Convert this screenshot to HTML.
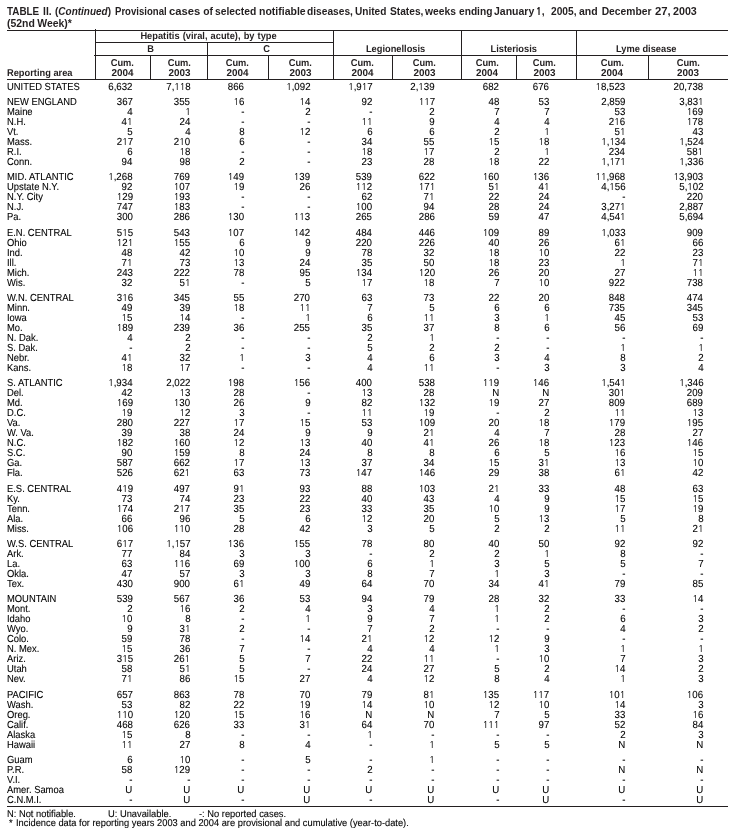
<!DOCTYPE html><html><head><meta charset='utf-8'><title>Table II</title><style>
*{margin:0;padding:0;box-sizing:border-box}
html,body{width:736px;height:835px;overflow:hidden;background:#fff}
body{position:relative;font-family:"Liberation Sans",Arial,Helvetica,sans-serif;color:#231f20}
.w{position:absolute;left:0;top:0;width:736px;height:835px;will-change:transform}
.w div,.w span{position:absolute;white-space:nowrap}
.l{transform-origin:0 50%}
.r{transform-origin:100% 50%}
.c{transform-origin:50% 50%}
.t div{font-weight:bold;font-size:10.3px;line-height:12px;transform:scaleX(0.97);transform-origin:0 50%;word-spacing:-0.55px}
.h{position:absolute;height:1px;background:#231f20}
.v{position:absolute;width:1px;background:#231f20}
.hd div{font-weight:bold;font-size:9.9px;line-height:10px;text-align:center;text-rendering:geometricPrecision;height:10px}
.hd span{position:static;display:inline-block;transform:scaleX(0.9394)}
.hd span.y{transform:scaleX(1.0)}
.d div{left:0;width:736px;height:10px;font-size:10.2px;line-height:10px;text-rendering:geometricPrecision;color:#000;-webkit-text-stroke:0.1px #000}
.d span{top:0}
.d span.o{position:static;font-family:"NanumGothic","Liberation Sans",sans-serif;font-weight:400;font-size:9.41px;letter-spacing:0px;line-height:0}
.d .n{left:7.3px;transform:scaleX(0.9216);transform-origin:0 50%}
.d .x{transform:scaleX(0.951);transform-origin:100% 50%}
.f div{font-size:9.9px;line-height:10px;text-rendering:geometricPrecision;color:#000;-webkit-text-stroke:0.1px #000;transform:scaleX(0.9444);transform-origin:0 50%}
.d .c0{right:603.40px}
.d .c1{right:545.60px}
.d .c2{right:491.80px}
.d .c3{right:425.60px}
.d .c4{right:363.80px}
.d .c5{right:301.40px}
.d .c6{right:236.60px}
.d .c7{right:186.60px}
.d .c8{right:110.80px}
.d .c9{right:32.80px}
</style></head><body>
<div class='w t'><div style='left:7.30px;top:6.00px;transform:scaleX(0.96)'>TABLE</div> <div style='left:43.10px;top:6.00px;transform:scaleX(1.0)'>II.</div> <div style='left:54.70px;top:6.00px;transform:scaleX(0.969)'>(<i>Continued</i>)</div> <div style='left:115.20px;top:6.00px;transform:scaleX(0.93)'>Provisional</div> <div style='left:169.00px;top:6.00px;transform:scaleX(1.095)'>cases</div> <div style='left:203.30px;top:6.00px;transform:scaleX(1.0)'>of</div> <div style='left:215.00px;top:6.00px;transform:scaleX(1.0)'>selected</div> <div style='left:259.20px;top:6.00px;transform:scaleX(1.02)'>notifiable</div> <div style='left:307.20px;top:6.00px;transform:scaleX(0.99)'>diseases,</div> <div style='left:355.30px;top:6.00px;transform:scaleX(0.98)'>United</div> <div style='left:389.60px;top:6.00px;transform:scaleX(0.99)'>States,</div> <div style='left:425.00px;top:6.00px;transform:scaleX(1.0)'>weeks</div> <div style='left:459.00px;top:6.00px;transform:scaleX(0.99)'>ending</div> <div style='left:494.40px;top:6.00px;transform:scaleX(1.02)'>January</div> <div style='left:536.00px;top:6.00px;transform:scaleX(1.0)'><span style='position:static;font-family:NanumGothic,sans-serif;font-weight:800;font-size:9.36px'>1</span>,</div> <div style='left:550.60px;top:6.00px;transform:scaleX(0.99)'>2005,</div> <div style='left:578.70px;top:6.00px;transform:scaleX(1.02)'>and</div> <div style='left:601.70px;top:6.00px;transform:scaleX(1.0)'>December</div> <div style='left:654.70px;top:6.00px;transform:scaleX(1.1)'>27,</div> <div style='left:673.00px;top:6.00px;transform:scaleX(1.04)'>2003</div><div style='left:7.3px;top:18.20px;transform:scaleX(1.015)'>(52nd Week)*</div></div>
<div class='h' style='left:7px;width:721px;top:30px'></div>
<div class='h' style='left:95px;width:238px;top:42px'></div>
<div class='h' style='left:94px;width:634px;top:55px'></div>
<div class='h' style='left:7px;width:721px;top:79px'></div>
<div class='h' style='left:7px;width:721px;top:806px'></div>
<div class='v' style='left:95px;top:29px;height:50px'></div>
<div class='v' style='left:150px;top:55px;height:24px'></div>
<div class='v' style='left:207px;top:42px;height:37px'></div>
<div class='v' style='left:268px;top:55px;height:24px'></div>
<div class='v' style='left:333px;top:30px;height:49px'></div>
<div class='v' style='left:392px;top:55px;height:24px'></div>
<div class='v' style='left:461px;top:30px;height:49px'></div>
<div class='v' style='left:516px;top:55px;height:24px'></div>
<div class='v' style='left:576px;top:30px;height:49px'></div>
<div class='v' style='left:648px;top:55px;height:24px'></div>
<div class='w hd'><div style='left:89.80px;width:238px;top:31.60px'><span><span style='word-spacing:0.6px;transform:none'>Hepatitis (viral, acute), by type</span></span></div><div style='left:95.00px;width:112px;top:44.50px'><span>B</span></div><div style='left:203.50px;width:126px;top:44.50px'><span>C</span></div><div style='left:332.00px;width:128px;top:44.50px'><span>Legionellosis</span></div><div style='left:456.00px;width:115px;top:44.50px'><span>Listeriosis</span></div><div style='left:570.40px;width:152px;top:44.50px'><span>Lyme disease</span></div><div style='left:95.00px;width:55px;top:58.80px'><span>Cum.</span></div><div style='left:95.00px;width:55px;top:68.50px'><span class='y'>2004</span></div><div style='left:151.00px;width:57px;top:58.80px'><span>Cum.</span></div><div style='left:151.00px;width:57px;top:68.50px'><span class='y'>2003</span></div><div style='left:207.00px;width:61px;top:58.80px'><span>Cum.</span></div><div style='left:207.00px;width:61px;top:68.50px'><span class='y'>2004</span></div><div style='left:268.00px;width:65px;top:58.80px'><span>Cum.</span></div><div style='left:268.00px;width:65px;top:68.50px'><span class='y'>2003</span></div><div style='left:333.00px;width:59px;top:58.80px'><span>Cum.</span></div><div style='left:333.00px;width:59px;top:68.50px'><span class='y'>2004</span></div><div style='left:390.00px;width:69px;top:58.80px'><span>Cum.</span></div><div style='left:390.00px;width:69px;top:68.50px'><span class='y'>2003</span></div><div style='left:459.50px;width:55px;top:58.80px'><span>Cum.</span></div><div style='left:459.50px;width:55px;top:68.50px'><span class='y'>2004</span></div><div style='left:514.50px;width:60px;top:58.80px'><span>Cum.</span></div><div style='left:514.50px;width:60px;top:68.50px'><span class='y'>2003</span></div><div style='left:576.00px;width:72px;top:58.80px'><span>Cum.</span></div><div style='left:576.00px;width:72px;top:68.50px'><span class='y'>2004</span></div><div style='left:648.00px;width:80px;top:58.80px'><span>Cum.</span></div><div style='left:648.00px;width:80px;top:68.50px'><span class='y'>2003</span></div><div style='left:7.3px;text-align:left;top:68.50px'><span style='transform-origin:0 50%'>Reporting area</span></div></div>
<div class='w d'><div style='top:83.00px'><span class='n'>UNITED STATES</span> <span class='x c0'>6,632</span> <span class='x c1'>7,<span class='o'>1</span><span class='o'>1</span>8</span> <span class='x c2'>866</span> <span class='x c3'><span class='o'>1</span>,092</span> <span class='x c4'><span class='o'>1</span>,9<span class='o'>1</span>7</span> <span class='x c5'>2,<span class='o'>1</span>39</span> <span class='x c6'>682</span> <span class='x c7'>676</span> <span class='x c8'><span class='o'>1</span>8,523</span> <span class='x c9'>20,738</span></div><div style='top:98.00px'><span class='n'>NEW ENGLAND</span> <span class='x c0'>367</span> <span class='x c1'>355</span> <span class='x c2'><span class='o'>1</span>6</span> <span class='x c3'><span class='o'>1</span>4</span> <span class='x c4'>92</span> <span class='x c5'><span class='o'>1</span><span class='o'>1</span>7</span> <span class='x c6'>48</span> <span class='x c7'>53</span> <span class='x c8'>2,859</span> <span class='x c9'>3,83<span class='o'>1</span></span></div><div style='top:108.00px'><span class='n'>Maine</span> <span class='x c0'>4</span> <span class='x c1'><span class='o'>1</span></span> <span class='x c2'>-</span> <span class='x c3'>2</span> <span class='x c4'>-</span> <span class='x c5'>2</span> <span class='x c6'>7</span> <span class='x c7'>7</span> <span class='x c8'>53</span> <span class='x c9'><span class='o'>1</span>69</span></div><div style='top:118.00px'><span class='n'>N.H.</span> <span class='x c0'>4<span class='o'>1</span></span> <span class='x c1'>24</span> <span class='x c2'>-</span> <span class='x c3'>-</span> <span class='x c4'><span class='o'>1</span><span class='o'>1</span></span> <span class='x c5'>9</span> <span class='x c6'>4</span> <span class='x c7'>4</span> <span class='x c8'>2<span class='o'>1</span>6</span> <span class='x c9'><span class='o'>1</span>78</span></div><div style='top:128.00px'><span class='n'>Vt.</span> <span class='x c0'>5</span> <span class='x c1'>4</span> <span class='x c2'>8</span> <span class='x c3'><span class='o'>1</span>2</span> <span class='x c4'>6</span> <span class='x c5'>6</span> <span class='x c6'>2</span> <span class='x c7'><span class='o'>1</span></span> <span class='x c8'>5<span class='o'>1</span></span> <span class='x c9'>43</span></div><div style='top:138.00px'><span class='n'>Mass.</span> <span class='x c0'>2<span class='o'>1</span>7</span> <span class='x c1'>2<span class='o'>1</span>0</span> <span class='x c2'>6</span> <span class='x c3'>-</span> <span class='x c4'>34</span> <span class='x c5'>55</span> <span class='x c6'><span class='o'>1</span>5</span> <span class='x c7'><span class='o'>1</span>8</span> <span class='x c8'><span class='o'>1</span>,<span class='o'>1</span>34</span> <span class='x c9'><span class='o'>1</span>,524</span></div><div style='top:148.00px'><span class='n'>R.I.</span> <span class='x c0'>6</span> <span class='x c1'><span class='o'>1</span>8</span> <span class='x c2'>-</span> <span class='x c3'>-</span> <span class='x c4'><span class='o'>1</span>8</span> <span class='x c5'><span class='o'>1</span>7</span> <span class='x c6'>2</span> <span class='x c7'><span class='o'>1</span></span> <span class='x c8'>234</span> <span class='x c9'>58<span class='o'>1</span></span></div><div style='top:158.00px'><span class='n'>Conn.</span> <span class='x c0'>94</span> <span class='x c1'>98</span> <span class='x c2'>2</span> <span class='x c3'>-</span> <span class='x c4'>23</span> <span class='x c5'>28</span> <span class='x c6'><span class='o'>1</span>8</span> <span class='x c7'>22</span> <span class='x c8'><span class='o'>1</span>,<span class='o'>1</span>7<span class='o'>1</span></span> <span class='x c9'><span class='o'>1</span>,336</span></div><div style='top:173.00px'><span class='n'>MID. ATLANTIC</span> <span class='x c0'><span class='o'>1</span>,268</span> <span class='x c1'>769</span> <span class='x c2'><span class='o'>1</span>49</span> <span class='x c3'><span class='o'>1</span>39</span> <span class='x c4'>539</span> <span class='x c5'>622</span> <span class='x c6'><span class='o'>1</span>60</span> <span class='x c7'><span class='o'>1</span>36</span> <span class='x c8'><span class='o'>1</span><span class='o'>1</span>,968</span> <span class='x c9'><span class='o'>1</span>3,903</span></div><div style='top:183.00px'><span class='n'>Upstate N.Y.</span> <span class='x c0'>92</span> <span class='x c1'><span class='o'>1</span>07</span> <span class='x c2'><span class='o'>1</span>9</span> <span class='x c3'>26</span> <span class='x c4'><span class='o'>1</span><span class='o'>1</span>2</span> <span class='x c5'><span class='o'>1</span>7<span class='o'>1</span></span> <span class='x c6'>5<span class='o'>1</span></span> <span class='x c7'>4<span class='o'>1</span></span> <span class='x c8'>4,<span class='o'>1</span>56</span> <span class='x c9'>5,<span class='o'>1</span>02</span></div><div style='top:193.00px'><span class='n'>N.Y. City</span> <span class='x c0'><span class='o'>1</span>29</span> <span class='x c1'><span class='o'>1</span>93</span> <span class='x c2'>-</span> <span class='x c3'>-</span> <span class='x c4'>62</span> <span class='x c5'>7<span class='o'>1</span></span> <span class='x c6'>22</span> <span class='x c7'>24</span> <span class='x c8'>-</span> <span class='x c9'>220</span></div><div style='top:203.00px'><span class='n'>N.J.</span> <span class='x c0'>747</span> <span class='x c1'><span class='o'>1</span>83</span> <span class='x c2'>-</span> <span class='x c3'>-</span> <span class='x c4'><span class='o'>1</span>00</span> <span class='x c5'>94</span> <span class='x c6'>28</span> <span class='x c7'>24</span> <span class='x c8'>3,27<span class='o'>1</span></span> <span class='x c9'>2,887</span></div><div style='top:213.00px'><span class='n'>Pa.</span> <span class='x c0'>300</span> <span class='x c1'>286</span> <span class='x c2'><span class='o'>1</span>30</span> <span class='x c3'><span class='o'>1</span><span class='o'>1</span>3</span> <span class='x c4'>265</span> <span class='x c5'>286</span> <span class='x c6'>59</span> <span class='x c7'>47</span> <span class='x c8'>4,54<span class='o'>1</span></span> <span class='x c9'>5,694</span></div><div style='top:229.00px'><span class='n'>E.N. CENTRAL</span> <span class='x c0'>5<span class='o'>1</span>5</span> <span class='x c1'>543</span> <span class='x c2'><span class='o'>1</span>07</span> <span class='x c3'><span class='o'>1</span>42</span> <span class='x c4'>484</span> <span class='x c5'>446</span> <span class='x c6'><span class='o'>1</span>09</span> <span class='x c7'>89</span> <span class='x c8'><span class='o'>1</span>,033</span> <span class='x c9'>909</span></div><div style='top:239.00px'><span class='n'>Ohio</span> <span class='x c0'><span class='o'>1</span>2<span class='o'>1</span></span> <span class='x c1'><span class='o'>1</span>55</span> <span class='x c2'>6</span> <span class='x c3'>9</span> <span class='x c4'>220</span> <span class='x c5'>226</span> <span class='x c6'>40</span> <span class='x c7'>26</span> <span class='x c8'>6<span class='o'>1</span></span> <span class='x c9'>66</span></div><div style='top:249.00px'><span class='n'>Ind.</span> <span class='x c0'>48</span> <span class='x c1'>42</span> <span class='x c2'><span class='o'>1</span>0</span> <span class='x c3'>9</span> <span class='x c4'>78</span> <span class='x c5'>32</span> <span class='x c6'><span class='o'>1</span>8</span> <span class='x c7'><span class='o'>1</span>0</span> <span class='x c8'>22</span> <span class='x c9'>23</span></div><div style='top:259.00px'><span class='n'>Ill.</span> <span class='x c0'>7<span class='o'>1</span></span> <span class='x c1'>73</span> <span class='x c2'><span class='o'>1</span>3</span> <span class='x c3'>24</span> <span class='x c4'>35</span> <span class='x c5'>50</span> <span class='x c6'><span class='o'>1</span>8</span> <span class='x c7'>23</span> <span class='x c8'><span class='o'>1</span></span> <span class='x c9'>7<span class='o'>1</span></span></div><div style='top:269.00px'><span class='n'>Mich.</span> <span class='x c0'>243</span> <span class='x c1'>222</span> <span class='x c2'>78</span> <span class='x c3'>95</span> <span class='x c4'><span class='o'>1</span>34</span> <span class='x c5'><span class='o'>1</span>20</span> <span class='x c6'>26</span> <span class='x c7'>20</span> <span class='x c8'>27</span> <span class='x c9'><span class='o'>1</span><span class='o'>1</span></span></div><div style='top:279.00px'><span class='n'>Wis.</span> <span class='x c0'>32</span> <span class='x c1'>5<span class='o'>1</span></span> <span class='x c2'>-</span> <span class='x c3'>5</span> <span class='x c4'><span class='o'>1</span>7</span> <span class='x c5'><span class='o'>1</span>8</span> <span class='x c6'>7</span> <span class='x c7'><span class='o'>1</span>0</span> <span class='x c8'>922</span> <span class='x c9'>738</span></div><div style='top:294.00px'><span class='n'>W.N. CENTRAL</span> <span class='x c0'>3<span class='o'>1</span>6</span> <span class='x c1'>345</span> <span class='x c2'>55</span> <span class='x c3'>270</span> <span class='x c4'>63</span> <span class='x c5'>73</span> <span class='x c6'>22</span> <span class='x c7'>20</span> <span class='x c8'>848</span> <span class='x c9'>474</span></div><div style='top:304.00px'><span class='n'>Minn.</span> <span class='x c0'>49</span> <span class='x c1'>39</span> <span class='x c2'><span class='o'>1</span>8</span> <span class='x c3'><span class='o'>1</span><span class='o'>1</span></span> <span class='x c4'>7</span> <span class='x c5'>5</span> <span class='x c6'>6</span> <span class='x c7'>6</span> <span class='x c8'>735</span> <span class='x c9'>345</span></div><div style='top:314.00px'><span class='n'>Iowa</span> <span class='x c0'><span class='o'>1</span>5</span> <span class='x c1'><span class='o'>1</span>4</span> <span class='x c2'>-</span> <span class='x c3'><span class='o'>1</span></span> <span class='x c4'>6</span> <span class='x c5'><span class='o'>1</span><span class='o'>1</span></span> <span class='x c6'>3</span> <span class='x c7'><span class='o'>1</span></span> <span class='x c8'>45</span> <span class='x c9'>53</span></div><div style='top:324.00px'><span class='n'>Mo.</span> <span class='x c0'><span class='o'>1</span>89</span> <span class='x c1'>239</span> <span class='x c2'>36</span> <span class='x c3'>255</span> <span class='x c4'>35</span> <span class='x c5'>37</span> <span class='x c6'>8</span> <span class='x c7'>6</span> <span class='x c8'>56</span> <span class='x c9'>69</span></div><div style='top:334.00px'><span class='n'>N. Dak.</span> <span class='x c0'>4</span> <span class='x c1'>2</span> <span class='x c2'>-</span> <span class='x c3'>-</span> <span class='x c4'>2</span> <span class='x c5'><span class='o'>1</span></span> <span class='x c6'>-</span> <span class='x c7'>-</span> <span class='x c8'>-</span> <span class='x c9'>-</span></div><div style='top:344.00px'><span class='n'>S. Dak.</span> <span class='x c0'>-</span> <span class='x c1'>2</span> <span class='x c2'>-</span> <span class='x c3'>-</span> <span class='x c4'>5</span> <span class='x c5'>2</span> <span class='x c6'>2</span> <span class='x c7'>-</span> <span class='x c8'><span class='o'>1</span></span> <span class='x c9'><span class='o'>1</span></span></div><div style='top:354.00px'><span class='n'>Nebr.</span> <span class='x c0'>4<span class='o'>1</span></span> <span class='x c1'>32</span> <span class='x c2'><span class='o'>1</span></span> <span class='x c3'>3</span> <span class='x c4'>4</span> <span class='x c5'>6</span> <span class='x c6'>3</span> <span class='x c7'>4</span> <span class='x c8'>8</span> <span class='x c9'>2</span></div><div style='top:364.00px'><span class='n'>Kans.</span> <span class='x c0'><span class='o'>1</span>8</span> <span class='x c1'><span class='o'>1</span>7</span> <span class='x c2'>-</span> <span class='x c3'>-</span> <span class='x c4'>4</span> <span class='x c5'><span class='o'>1</span><span class='o'>1</span></span> <span class='x c6'>-</span> <span class='x c7'>3</span> <span class='x c8'>3</span> <span class='x c9'>4</span></div><div style='top:379.00px'><span class='n'>S. ATLANTIC</span> <span class='x c0'><span class='o'>1</span>,934</span> <span class='x c1'>2,022</span> <span class='x c2'><span class='o'>1</span>98</span> <span class='x c3'><span class='o'>1</span>56</span> <span class='x c4'>400</span> <span class='x c5'>538</span> <span class='x c6'><span class='o'>1</span><span class='o'>1</span>9</span> <span class='x c7'><span class='o'>1</span>46</span> <span class='x c8'><span class='o'>1</span>,54<span class='o'>1</span></span> <span class='x c9'><span class='o'>1</span>,346</span></div><div style='top:389.00px'><span class='n'>Del.</span> <span class='x c0'>42</span> <span class='x c1'><span class='o'>1</span>3</span> <span class='x c2'>28</span> <span class='x c3'>-</span> <span class='x c4'><span class='o'>1</span>3</span> <span class='x c5'>28</span> <span class='x c6'>N</span> <span class='x c7'>N</span> <span class='x c8'>30<span class='o'>1</span></span> <span class='x c9'>209</span></div><div style='top:399.00px'><span class='n'>Md.</span> <span class='x c0'><span class='o'>1</span>69</span> <span class='x c1'><span class='o'>1</span>30</span> <span class='x c2'>26</span> <span class='x c3'>9</span> <span class='x c4'>82</span> <span class='x c5'><span class='o'>1</span>32</span> <span class='x c6'><span class='o'>1</span>9</span> <span class='x c7'>27</span> <span class='x c8'>809</span> <span class='x c9'>689</span></div><div style='top:409.00px'><span class='n'>D.C.</span> <span class='x c0'><span class='o'>1</span>9</span> <span class='x c1'><span class='o'>1</span>2</span> <span class='x c2'>3</span> <span class='x c3'>-</span> <span class='x c4'><span class='o'>1</span><span class='o'>1</span></span> <span class='x c5'><span class='o'>1</span>9</span> <span class='x c6'>-</span> <span class='x c7'>2</span> <span class='x c8'><span class='o'>1</span><span class='o'>1</span></span> <span class='x c9'><span class='o'>1</span>3</span></div><div style='top:419.00px'><span class='n'>Va.</span> <span class='x c0'>280</span> <span class='x c1'>227</span> <span class='x c2'><span class='o'>1</span>7</span> <span class='x c3'><span class='o'>1</span>5</span> <span class='x c4'>53</span> <span class='x c5'><span class='o'>1</span>09</span> <span class='x c6'>20</span> <span class='x c7'><span class='o'>1</span>8</span> <span class='x c8'><span class='o'>1</span>79</span> <span class='x c9'><span class='o'>1</span>95</span></div><div style='top:429.00px'><span class='n'>W. Va.</span> <span class='x c0'>39</span> <span class='x c1'>38</span> <span class='x c2'>24</span> <span class='x c3'>9</span> <span class='x c4'>9</span> <span class='x c5'>2<span class='o'>1</span></span> <span class='x c6'>4</span> <span class='x c7'>7</span> <span class='x c8'>28</span> <span class='x c9'>27</span></div><div style='top:439.00px'><span class='n'>N.C.</span> <span class='x c0'><span class='o'>1</span>82</span> <span class='x c1'><span class='o'>1</span>60</span> <span class='x c2'><span class='o'>1</span>2</span> <span class='x c3'><span class='o'>1</span>3</span> <span class='x c4'>40</span> <span class='x c5'>4<span class='o'>1</span></span> <span class='x c6'>26</span> <span class='x c7'><span class='o'>1</span>8</span> <span class='x c8'><span class='o'>1</span>23</span> <span class='x c9'><span class='o'>1</span>46</span></div><div style='top:449.00px'><span class='n'>S.C.</span> <span class='x c0'>90</span> <span class='x c1'><span class='o'>1</span>59</span> <span class='x c2'>8</span> <span class='x c3'>24</span> <span class='x c4'>8</span> <span class='x c5'>8</span> <span class='x c6'>6</span> <span class='x c7'>5</span> <span class='x c8'><span class='o'>1</span>6</span> <span class='x c9'><span class='o'>1</span>5</span></div><div style='top:459.00px'><span class='n'>Ga.</span> <span class='x c0'>587</span> <span class='x c1'>662</span> <span class='x c2'><span class='o'>1</span>7</span> <span class='x c3'><span class='o'>1</span>3</span> <span class='x c4'>37</span> <span class='x c5'>34</span> <span class='x c6'><span class='o'>1</span>5</span> <span class='x c7'>3<span class='o'>1</span></span> <span class='x c8'><span class='o'>1</span>3</span> <span class='x c9'><span class='o'>1</span>0</span></div><div style='top:469.00px'><span class='n'>Fla.</span> <span class='x c0'>526</span> <span class='x c1'>62<span class='o'>1</span></span> <span class='x c2'>63</span> <span class='x c3'>73</span> <span class='x c4'><span class='o'>1</span>47</span> <span class='x c5'><span class='o'>1</span>46</span> <span class='x c6'>29</span> <span class='x c7'>38</span> <span class='x c8'>6<span class='o'>1</span></span> <span class='x c9'>42</span></div><div style='top:485.00px'><span class='n'>E.S. CENTRAL</span> <span class='x c0'>4<span class='o'>1</span>9</span> <span class='x c1'>497</span> <span class='x c2'>9<span class='o'>1</span></span> <span class='x c3'>93</span> <span class='x c4'>88</span> <span class='x c5'><span class='o'>1</span>03</span> <span class='x c6'>2<span class='o'>1</span></span> <span class='x c7'>33</span> <span class='x c8'>48</span> <span class='x c9'>63</span></div><div style='top:495.00px'><span class='n'>Ky.</span> <span class='x c0'>73</span> <span class='x c1'>74</span> <span class='x c2'>23</span> <span class='x c3'>22</span> <span class='x c4'>40</span> <span class='x c5'>43</span> <span class='x c6'>4</span> <span class='x c7'>9</span> <span class='x c8'><span class='o'>1</span>5</span> <span class='x c9'><span class='o'>1</span>5</span></div><div style='top:505.00px'><span class='n'>Tenn.</span> <span class='x c0'><span class='o'>1</span>74</span> <span class='x c1'>2<span class='o'>1</span>7</span> <span class='x c2'>35</span> <span class='x c3'>23</span> <span class='x c4'>33</span> <span class='x c5'>35</span> <span class='x c6'><span class='o'>1</span>0</span> <span class='x c7'>9</span> <span class='x c8'><span class='o'>1</span>7</span> <span class='x c9'><span class='o'>1</span>9</span></div><div style='top:515.00px'><span class='n'>Ala.</span> <span class='x c0'>66</span> <span class='x c1'>96</span> <span class='x c2'>5</span> <span class='x c3'>6</span> <span class='x c4'><span class='o'>1</span>2</span> <span class='x c5'>20</span> <span class='x c6'>5</span> <span class='x c7'><span class='o'>1</span>3</span> <span class='x c8'>5</span> <span class='x c9'>8</span></div><div style='top:525.00px'><span class='n'>Miss.</span> <span class='x c0'><span class='o'>1</span>06</span> <span class='x c1'><span class='o'>1</span><span class='o'>1</span>0</span> <span class='x c2'>28</span> <span class='x c3'>42</span> <span class='x c4'>3</span> <span class='x c5'>5</span> <span class='x c6'>2</span> <span class='x c7'>2</span> <span class='x c8'><span class='o'>1</span><span class='o'>1</span></span> <span class='x c9'>2<span class='o'>1</span></span></div><div style='top:540.00px'><span class='n'>W.S. CENTRAL</span> <span class='x c0'>6<span class='o'>1</span>7</span> <span class='x c1'><span class='o'>1</span>,<span class='o'>1</span>57</span> <span class='x c2'><span class='o'>1</span>36</span> <span class='x c3'><span class='o'>1</span>55</span> <span class='x c4'>78</span> <span class='x c5'>80</span> <span class='x c6'>40</span> <span class='x c7'>50</span> <span class='x c8'>92</span> <span class='x c9'>92</span></div><div style='top:550.00px'><span class='n'>Ark.</span> <span class='x c0'>77</span> <span class='x c1'>84</span> <span class='x c2'>3</span> <span class='x c3'>3</span> <span class='x c4'>-</span> <span class='x c5'>2</span> <span class='x c6'>2</span> <span class='x c7'><span class='o'>1</span></span> <span class='x c8'>8</span> <span class='x c9'>-</span></div><div style='top:560.00px'><span class='n'>La.</span> <span class='x c0'>63</span> <span class='x c1'><span class='o'>1</span><span class='o'>1</span>6</span> <span class='x c2'>69</span> <span class='x c3'><span class='o'>1</span>00</span> <span class='x c4'>6</span> <span class='x c5'><span class='o'>1</span></span> <span class='x c6'>3</span> <span class='x c7'>5</span> <span class='x c8'>5</span> <span class='x c9'>7</span></div><div style='top:570.00px'><span class='n'>Okla.</span> <span class='x c0'>47</span> <span class='x c1'>57</span> <span class='x c2'>3</span> <span class='x c3'>3</span> <span class='x c4'>8</span> <span class='x c5'>7</span> <span class='x c6'><span class='o'>1</span></span> <span class='x c7'>3</span> <span class='x c8'>-</span> <span class='x c9'>-</span></div><div style='top:580.00px'><span class='n'>Tex.</span> <span class='x c0'>430</span> <span class='x c1'>900</span> <span class='x c2'>6<span class='o'>1</span></span> <span class='x c3'>49</span> <span class='x c4'>64</span> <span class='x c5'>70</span> <span class='x c6'>34</span> <span class='x c7'>4<span class='o'>1</span></span> <span class='x c8'>79</span> <span class='x c9'>85</span></div><div style='top:595.00px'><span class='n'>MOUNTAIN</span> <span class='x c0'>539</span> <span class='x c1'>567</span> <span class='x c2'>36</span> <span class='x c3'>53</span> <span class='x c4'>94</span> <span class='x c5'>79</span> <span class='x c6'>28</span> <span class='x c7'>32</span> <span class='x c8'>33</span> <span class='x c9'><span class='o'>1</span>4</span></div><div style='top:605.00px'><span class='n'>Mont.</span> <span class='x c0'>2</span> <span class='x c1'><span class='o'>1</span>6</span> <span class='x c2'>2</span> <span class='x c3'>4</span> <span class='x c4'>3</span> <span class='x c5'>4</span> <span class='x c6'><span class='o'>1</span></span> <span class='x c7'>2</span> <span class='x c8'>-</span> <span class='x c9'>-</span></div><div style='top:615.00px'><span class='n'>Idaho</span> <span class='x c0'><span class='o'>1</span>0</span> <span class='x c1'>8</span> <span class='x c2'>-</span> <span class='x c3'><span class='o'>1</span></span> <span class='x c4'>9</span> <span class='x c5'>7</span> <span class='x c6'><span class='o'>1</span></span> <span class='x c7'>2</span> <span class='x c8'>6</span> <span class='x c9'>3</span></div><div style='top:625.00px'><span class='n'>Wyo.</span> <span class='x c0'>9</span> <span class='x c1'>3<span class='o'>1</span></span> <span class='x c2'>2</span> <span class='x c3'>-</span> <span class='x c4'>7</span> <span class='x c5'>2</span> <span class='x c6'>-</span> <span class='x c7'>-</span> <span class='x c8'>4</span> <span class='x c9'>2</span></div><div style='top:635.00px'><span class='n'>Colo.</span> <span class='x c0'>59</span> <span class='x c1'>78</span> <span class='x c2'>-</span> <span class='x c3'><span class='o'>1</span>4</span> <span class='x c4'>2<span class='o'>1</span></span> <span class='x c5'><span class='o'>1</span>2</span> <span class='x c6'><span class='o'>1</span>2</span> <span class='x c7'>9</span> <span class='x c8'>-</span> <span class='x c9'>-</span></div><div style='top:645.00px'><span class='n'>N. Mex.</span> <span class='x c0'><span class='o'>1</span>5</span> <span class='x c1'>36</span> <span class='x c2'>7</span> <span class='x c3'>-</span> <span class='x c4'>4</span> <span class='x c5'>4</span> <span class='x c6'><span class='o'>1</span></span> <span class='x c7'>3</span> <span class='x c8'><span class='o'>1</span></span> <span class='x c9'><span class='o'>1</span></span></div><div style='top:655.00px'><span class='n'>Ariz.</span> <span class='x c0'>3<span class='o'>1</span>5</span> <span class='x c1'>26<span class='o'>1</span></span> <span class='x c2'>5</span> <span class='x c3'>7</span> <span class='x c4'>22</span> <span class='x c5'><span class='o'>1</span><span class='o'>1</span></span> <span class='x c6'>-</span> <span class='x c7'><span class='o'>1</span>0</span> <span class='x c8'>7</span> <span class='x c9'>3</span></div><div style='top:665.00px'><span class='n'>Utah</span> <span class='x c0'>58</span> <span class='x c1'>5<span class='o'>1</span></span> <span class='x c2'>5</span> <span class='x c3'>-</span> <span class='x c4'>24</span> <span class='x c5'>27</span> <span class='x c6'>5</span> <span class='x c7'>2</span> <span class='x c8'><span class='o'>1</span>4</span> <span class='x c9'>2</span></div><div style='top:675.00px'><span class='n'>Nev.</span> <span class='x c0'>7<span class='o'>1</span></span> <span class='x c1'>86</span> <span class='x c2'><span class='o'>1</span>5</span> <span class='x c3'>27</span> <span class='x c4'>4</span> <span class='x c5'><span class='o'>1</span>2</span> <span class='x c6'>8</span> <span class='x c7'>4</span> <span class='x c8'><span class='o'>1</span></span> <span class='x c9'>3</span></div><div style='top:691.00px'><span class='n'>PACIFIC</span> <span class='x c0'>657</span> <span class='x c1'>863</span> <span class='x c2'>78</span> <span class='x c3'>70</span> <span class='x c4'>79</span> <span class='x c5'>8<span class='o'>1</span></span> <span class='x c6'><span class='o'>1</span>35</span> <span class='x c7'><span class='o'>1</span><span class='o'>1</span>7</span> <span class='x c8'><span class='o'>1</span>0<span class='o'>1</span></span> <span class='x c9'><span class='o'>1</span>06</span></div><div style='top:701.00px'><span class='n'>Wash.</span> <span class='x c0'>53</span> <span class='x c1'>82</span> <span class='x c2'>22</span> <span class='x c3'><span class='o'>1</span>9</span> <span class='x c4'><span class='o'>1</span>4</span> <span class='x c5'><span class='o'>1</span>0</span> <span class='x c6'><span class='o'>1</span>2</span> <span class='x c7'><span class='o'>1</span>0</span> <span class='x c8'><span class='o'>1</span>4</span> <span class='x c9'>3</span></div><div style='top:711.00px'><span class='n'>Oreg.</span> <span class='x c0'><span class='o'>1</span><span class='o'>1</span>0</span> <span class='x c1'><span class='o'>1</span>20</span> <span class='x c2'><span class='o'>1</span>5</span> <span class='x c3'><span class='o'>1</span>6</span> <span class='x c4'>N</span> <span class='x c5'>N</span> <span class='x c6'>7</span> <span class='x c7'>5</span> <span class='x c8'>33</span> <span class='x c9'><span class='o'>1</span>6</span></div><div style='top:721.00px'><span class='n'>Calif.</span> <span class='x c0'>468</span> <span class='x c1'>626</span> <span class='x c2'>33</span> <span class='x c3'>3<span class='o'>1</span></span> <span class='x c4'>64</span> <span class='x c5'>70</span> <span class='x c6'><span class='o'>1</span><span class='o'>1</span><span class='o'>1</span></span> <span class='x c7'>97</span> <span class='x c8'>52</span> <span class='x c9'>84</span></div><div style='top:731.00px'><span class='n'>Alaska</span> <span class='x c0'><span class='o'>1</span>5</span> <span class='x c1'>8</span> <span class='x c2'>-</span> <span class='x c3'>-</span> <span class='x c4'><span class='o'>1</span></span> <span class='x c5'>-</span> <span class='x c6'>-</span> <span class='x c7'>-</span> <span class='x c8'>2</span> <span class='x c9'>3</span></div><div style='top:741.00px'><span class='n'>Hawaii</span> <span class='x c0'><span class='o'>1</span><span class='o'>1</span></span> <span class='x c1'>27</span> <span class='x c2'>8</span> <span class='x c3'>4</span> <span class='x c4'>-</span> <span class='x c5'><span class='o'>1</span></span> <span class='x c6'>5</span> <span class='x c7'>5</span> <span class='x c8'>N</span> <span class='x c9'>N</span></div><div style='top:756.00px'><span class='n'>Guam</span> <span class='x c0'>6</span> <span class='x c1'><span class='o'>1</span>0</span> <span class='x c2'>-</span> <span class='x c3'>5</span> <span class='x c4'>-</span> <span class='x c5'><span class='o'>1</span></span> <span class='x c6'>-</span> <span class='x c7'>-</span> <span class='x c8'>-</span> <span class='x c9'>-</span></div><div style='top:766.00px'><span class='n'>P.R.</span> <span class='x c0'>58</span> <span class='x c1'><span class='o'>1</span>29</span> <span class='x c2'>-</span> <span class='x c3'>-</span> <span class='x c4'>2</span> <span class='x c5'>-</span> <span class='x c6'>-</span> <span class='x c7'>-</span> <span class='x c8'>N</span> <span class='x c9'>N</span></div><div style='top:776.00px'><span class='n'>V.I.</span> <span class='x c0'>-</span> <span class='x c1'>-</span> <span class='x c2'>-</span> <span class='x c3'>-</span> <span class='x c4'>-</span> <span class='x c5'>-</span> <span class='x c6'>-</span> <span class='x c7'>-</span> <span class='x c8'>-</span> <span class='x c9'>-</span></div><div style='top:786.00px'><span class='n'>Amer. Samoa</span> <span class='x c0'>U</span> <span class='x c1'>U</span> <span class='x c2'>U</span> <span class='x c3'>U</span> <span class='x c4'>U</span> <span class='x c5'>U</span> <span class='x c6'>U</span> <span class='x c7'>U</span> <span class='x c8'>U</span> <span class='x c9'>U</span></div><div style='top:796.00px'><span class='n'>C.N.M.I.</span> <span class='x c0'>-</span> <span class='x c1'>U</span> <span class='x c2'>-</span> <span class='x c3'>U</span> <span class='x c4'>-</span> <span class='x c5'>U</span> <span class='x c6'>-</span> <span class='x c7'>U</span> <span class='x c8'>-</span> <span class='x c9'>U</span></div></div>
<div class='w f'><div style='left:7px;top:809.80px'>N: Not notifiable.</div><div style='left:108px;top:809.80px'>U: Unavailable.</div><div style='left:198.5px;top:809.80px'>-: No reported cases.</div><div style='left:9.2px;top:818.80px'>*</div><div style='left:16px;top:818.80px;font-size:9.85px'>Incidence data for reporting years 2003 and 2004 are provisional and cumulative (year-to-date).</div></div>
</body></html>
